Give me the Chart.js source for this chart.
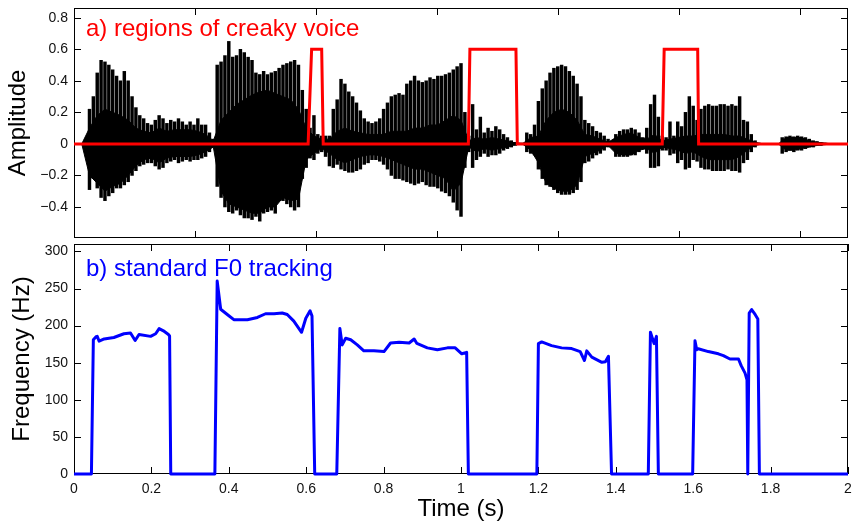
<!DOCTYPE html>
<html>
<head>
<meta charset="utf-8">
<script src="https://cdn.jsdelivr.net/npm/chart.js@4.4.1/dist/chart.umd.min.js"></script>
<style>
  html, body { margin: 0; padding: 0; background: #fff; }
  #wrap { position: relative; width: 852px; height: 522px; }
  canvas { position: absolute; left: 0; }
  #top { top: 0; }
  #bottom { top: 240px; }
</style>
</head>
<body>
<div id="wrap">
  <canvas id="top" width="852" height="240"></canvas>
  <canvas id="bottom" width="852" height="282"></canvas>
</div>
<script>
/* Panel a) waveform with creaky-voice regions, panel b) F0 track */

// waveform envelope, one value every 10 ms from 0 s
const WAVE_STEP = 0.01;
const waveHi = [
  0, 0, 0, 0, 0.22, 0.30, 0.45, 0.53, 0.52, 0.50,
  0.47, 0.43, 0.40, 0.46, 0.40, 0.30, 0.23, 0.18, 0.16, 0.13,
  0.12, 0.15, 0.18, 0.16, 0.13, 0.15, 0.14, 0.16, 0.14, 0.12,
  0.14, 0.12, 0.16, 0.12, 0.12, 0.07, 0.03, 0.50, 0.52, 0.56,
  0.65, 0.55, 0.56, 0.60, 0.58, 0.55, 0.53, 0.45, 0.44, 0.46,
  0.44, 0.45, 0.46, 0.48, 0.50, 0.51, 0.52, 0.53, 0.50, 0.34,
  0.22, 0.10, 0.18, 0.06, 0.05, 0.05, 0.05, 0.22, 0.28, 0.41,
  0.38, 0.33, 0.30, 0.26, 0.21, 0.16, 0.14, 0.13, 0.14, 0.16,
  0.22, 0.26, 0.30, 0.31, 0.32, 0.31, 0.38, 0.40, 0.43, 0.40,
  0.39, 0.40, 0.42, 0.41, 0.43, 0.43, 0.44, 0.45, 0.47, 0.49,
  0.51, 0.20, 0.05, 0.25, 0.09, 0.17, 0.07, 0.10, 0.08, 0.11,
  0.09, 0.06, 0.04, 0.02, 0.01, 0.005, 0.005, 0.07, 0.06, 0.12,
  0.27, 0.35, 0.40, 0.45, 0.48, 0.49, 0.50, 0.49, 0.46, 0.43,
  0.38, 0.30, 0.15, 0.13, 0.11, 0.08, 0.07, 0.05, 0.03, 0.01,
  0.06, 0.08, 0.09, 0.09, 0.10, 0.09, 0.07, 0.04, 0.10, 0.25,
  0.31, 0.17, 0.05, 0.04, 0.14, 0.05, 0.14, 0.11, 0.20, 0.30,
  0.24, 0.15, 0.22, 0.24, 0.25, 0.24, 0.24, 0.25, 0.25, 0.24,
  0.25, 0.24, 0.30, 0.15, 0.14, 0.06, 0.02, 0.005, 0, 0,
  0, 0, 0, 0.04, 0.045, 0.05, 0.045, 0.05, 0.045, 0.04,
  0.03, 0.02, 0.015, 0.01, 0.005, 0, 0, 0, 0, 0
];
const waveLo = [
  0, 0, 0, 0, -0.29, -0.22, -0.28, -0.34, -0.36, -0.33,
  -0.31, -0.28, -0.28, -0.26, -0.24, -0.20, -0.17, -0.14, -0.13, -0.12,
  -0.12, -0.14, -0.16, -0.15, -0.12, -0.11, -0.10, -0.12, -0.11, -0.10,
  -0.11, -0.10, -0.10, -0.09, -0.08, -0.05, -0.02, -0.27, -0.34, -0.40,
  -0.43, -0.44, -0.42, -0.45, -0.47, -0.47, -0.48, -0.46, -0.49, -0.44,
  -0.43, -0.42, -0.44, -0.36, -0.36, -0.38, -0.40, -0.42, -0.40, -0.22,
  -0.15, -0.09, -0.10, -0.06, -0.05, -0.08, -0.14, -0.15, -0.13, -0.16,
  -0.17, -0.18, -0.18, -0.17, -0.16, -0.13, -0.12, -0.10, -0.10, -0.11,
  -0.13, -0.16, -0.20, -0.22, -0.22, -0.23, -0.24, -0.25, -0.26, -0.25,
  -0.24, -0.26, -0.27, -0.27, -0.28, -0.30, -0.31, -0.33, -0.37, -0.42,
  -0.46, -0.15, -0.05, -0.15, -0.10, -0.08, -0.06, -0.08, -0.07, -0.07,
  -0.06, -0.04, -0.03, -0.02, -0.01, -0.005, -0.005, -0.05, -0.06, -0.07,
  -0.16, -0.22, -0.26, -0.27, -0.29, -0.31, -0.32, -0.32, -0.32, -0.31,
  -0.29, -0.24, -0.12, -0.11, -0.09, -0.07, -0.06, -0.04, -0.02, -0.01,
  -0.08, -0.08, -0.08, -0.08, -0.07, -0.07, -0.05, -0.03, -0.06, -0.15,
  -0.15, -0.14, -0.04, -0.04, -0.07, -0.06, -0.12, -0.10, -0.16, -0.15,
  -0.10, -0.11, -0.15, -0.16, -0.16, -0.17, -0.17, -0.17, -0.17, -0.16,
  -0.17, -0.17, -0.18, -0.12, -0.10, -0.05, -0.02, -0.005, 0, 0,
  0, 0, 0, -0.06, -0.05, -0.04, -0.05, -0.04, -0.04, -0.03,
  -0.02, -0.02, -0.01, -0.01, -0.005, 0, 0, 0, 0, 0
];

// dense inner part of the waveform, one value every 20 ms
const CORE_STEP = 0.02;
const coreHi = [
  0, 0, 0.10, 0.18, 0.22, 0.20, 0.18, 0.15, 0.10, 0.08,
  0.07, 0.10, 0.08, 0.09, 0.09, 0.09, 0.08, 0.06, 0.02, 0.15,
  0.20, 0.25, 0.28, 0.31, 0.33, 0.34, 0.32, 0.30, 0.28, 0.22,
  0.10, 0.05, 0.03, 0.03, 0.08, 0.10, 0.08, 0.07, 0.06, 0.06,
  0.06, 0.08, 0.08, 0.08, 0.10, 0.10, 0.12, 0.12, 0.15, 0.18,
  0.15, 0.02, 0.04, 0.03, 0.04, 0.03, 0.02, 0.005, 0.003, 0.04,
  0.05, 0.15, 0.20, 0.22, 0.20, 0.15, 0.06, 0.05, 0.03, 0.01,
  0.04, 0.06, 0.07, 0.04, 0.03, 0.06, 0.02, 0.03, 0.04, 0.05,
  0.05, 0.06, 0.06, 0.06, 0.06, 0.05, 0.05, 0.03, 0.01, 0,
  0, 0, 0.04, 0.04, 0.04, 0.02, 0.01, 0.005, 0, 0
];
const coreLo = [
  0, 0, -0.20, -0.25, -0.30, -0.27, -0.25, -0.20, -0.14, -0.10,
  -0.09, -0.12, -0.09, -0.08, -0.08, -0.08, -0.07, -0.05, -0.02, -0.30,
  -0.38, -0.40, -0.42, -0.44, -0.44, -0.40, -0.40, -0.34, -0.36, -0.35,
  -0.10, -0.06, -0.03, -0.06, -0.10, -0.12, -0.10, -0.08, -0.07, -0.07,
  -0.08, -0.10, -0.12, -0.14, -0.16, -0.16, -0.18, -0.20, -0.22, -0.30,
  -0.25, -0.02, -0.05, -0.03, -0.04, -0.03, -0.02, -0.005, -0.003, -0.04,
  -0.12, -0.25, -0.28, -0.30, -0.30, -0.26, -0.08, -0.06, -0.04, -0.01,
  -0.06, -0.07, -0.07, -0.04, -0.03, -0.06, -0.02, -0.03, -0.04, -0.06,
  -0.05, -0.08, -0.10, -0.10, -0.10, -0.10, -0.08, -0.04, -0.01, 0,
  0, 0, -0.04, -0.04, -0.03, -0.02, -0.01, -0.005, 0, 0
];

// creaky voice regions (red)
const creakyT = [0, 0.605, 0.614, 0.640, 0.644, 1.019, 1.023, 1.142, 1.1455, 1.520, 1.525, 1.6116, 1.614, 2.0];
const creakyV = [0, 0, 0.6, 0.6, 0, 0, 0.6, 0.6, 0, 0, 0.6, 0.6, 0, 0];

// standard F0 track (blue)
const f0T = [
  0, 0.045, 0.050, 0.057, 0.060, 0.065, 0.078, 0.103, 0.129, 0.146, 0.158, 0.168, 0.198, 0.211, 0.220, 0.231, 0.244, 0.247, 0.250,
  0.364, 0.370, 0.379, 0.396, 0.413, 0.448, 0.474, 0.495, 0.517, 0.538, 0.551, 0.568, 0.588, 0.599, 0.610, 0.615, 0.622,
  0.679, 0.687, 0.693, 0.702, 0.715, 0.732, 0.749, 0.775, 0.801, 0.818, 0.840, 0.866, 0.879, 0.886, 0.913, 0.939, 0.965, 0.985, 1.002, 1.0146, 1.019,
  1.196, 1.200, 1.2085, 1.234, 1.260, 1.286, 1.308, 1.319, 1.325, 1.338, 1.364, 1.373, 1.381, 1.389,
  1.484, 1.4895, 1.499, 1.505, 1.510,
  1.5986, 1.6046, 1.609, 1.613, 1.639, 1.665, 1.678, 1.695, 1.717, 1.724, 1.734, 1.739, 1.741, 1.7447, 1.751, 1.760, 1.767, 1.771, 2.0
];
const f0Hz = [
  0, 0, 181, 185, 185.5, 179, 182, 184, 189, 190, 180, 188, 185.5, 189, 196, 193, 188, 186, 0,
  0, 260, 222, 215, 208, 208, 211, 216, 216, 217, 215, 206, 191, 210, 220, 213, 0,
  0, 196, 174, 183, 181, 174, 166, 166, 165, 176.6, 177.5, 176.6, 182, 176, 170, 167.6, 170, 170, 162, 164, 0,
  0, 175.7, 178, 173, 170, 169, 165, 153, 166, 157.6, 150.5, 151.4, 158.6, 0,
  0, 191, 175.7, 185.5, 0,
  0, 179.7, 167.6, 168.9, 165, 162, 159.5, 155, 155, 146, 136, 127, 0, 217, 221.6, 215, 209, 0, 0
];

// axis ticks
const SAMPLE_RATE = 16000;
const topSampleTicks = [5000, 10000, 15000, 20000, 25000, 30000];
const ampTicks = [-0.4, -0.2, 0, 0.2, 0.4, 0.6, 0.8];
const timeTicks = [0, 0.2, 0.4, 0.6, 0.8, 1, 1.2, 1.4, 1.6, 1.8, 2];
const freqTicks = [0, 50, 100, 150, 200, 250, 300];

const FONT = "'Liberation Sans', Arial, Helvetica, sans-serif";
const TICK_LEN = 7;

const pts = (xs, ys) => xs.map((x, i) => ({ x: x, y: ys[i] }));
const stepPts = (arr, step) => arr.map((v, i) => ({ x: i * step, y: v }));
const fmtNum = (v) => (v < 0 ? "\u2212" : "") + String(Math.abs(v));

// MATLAB-like box with inward ticks and the panel caption
const boxPlugin = {
  id: "boxPlugin",
  beforeDatasetsDraw(chart, args, opts) {
    const { ctx, chartArea: a } = chart;
    const xs = chart.scales.x, ys = chart.scales.y;
    ctx.save();
    ctx.strokeStyle = "#000";
    ctx.lineWidth = 1;
    ctx.strokeRect(a.left + 0.5, a.top + 0.5, a.right - a.left - 1, a.bottom - a.top - 1);
    ctx.beginPath();
    const xv = opts.xTicks || xs.ticks.map(t => t.value);
    xv.forEach(v => {
      const px = Math.round(xs.getPixelForValue(v)) + 0.5;
      ctx.moveTo(px, a.bottom); ctx.lineTo(px, a.bottom - TICK_LEN);
      ctx.moveTo(px, a.top); ctx.lineTo(px, a.top + TICK_LEN);
    });
    ys.ticks.forEach(t => {
      const py = Math.round(ys.getPixelForValue(t.value)) + 0.5;
      ctx.moveTo(a.left, py); ctx.lineTo(a.left + TICK_LEN, py);
      ctx.moveTo(a.right, py); ctx.lineTo(a.right - TICK_LEN, py);
    });
    ctx.stroke();
    ctx.restore();
  },
  afterDraw(chart, args, opts) {
    const { ctx, chartArea: a } = chart;
    ctx.save();
    ctx.fillStyle = opts.color;
    ctx.font = "24px " + FONT;
    ctx.textBaseline = "alphabetic";
    ctx.fillText(opts.label, a.left + 12, opts.labelY);
    ctx.restore();
  }
};

const noPad = (s) => { s.paddingTop = 0; s.paddingBottom = 0; s.paddingLeft = 0; s.paddingRight = 0; };

const baseOpts = {
  responsive: false,
  animation: false,
  events: [],
  plugins: { legend: { display: false }, tooltip: { enabled: false } }
};

// ---- panel a) ----
new Chart(document.getElementById("top"), {
  type: "bar",
  data: {
    datasets: [
      { type: "line", data: pts(creakyT, creakyV), borderColor: "#ff0000", borderWidth: 3, pointRadius: 0, tension: 0, clip: 3 },
      { type: "line", data: [{ x: 0, y: 0 }, { x: 2, y: 0 }], borderColor: "#000", borderWidth: 1, pointRadius: 0 },
      { type: "line", data: stepPts(coreHi, CORE_STEP), borderColor: "#000", borderWidth: 1, backgroundColor: "#000", fill: "+1", pointRadius: 0, tension: 0 },
      { type: "line", data: stepPts(coreLo, CORE_STEP), borderColor: "#000", borderWidth: 1, fill: false, pointRadius: 0, tension: 0 },
      { type: "bar", data: waveHi.map((h, i) => ({ x: i * WAVE_STEP, y: [waveLo[i], h] })), backgroundColor: "#000", barThickness: 2.8, grouped: false }
    ]
  },
  options: {
    ...baseOpts,
    layout: { padding: { left: 0, right: 4, top: 8, bottom: 2 } },
    scales: {
      x: { type: "linear", min: 0, max: 2, offset: false, display: false },
      y: {
        min: -0.597, max: 0.862,
        afterBuildTicks: (s) => { s.ticks = ampTicks.map(v => ({ value: v })); },
        afterFit: (s) => { s.width = 74; noPad(s); },
        grid: { display: false, drawTicks: false },
        border: { display: false },
        ticks: { padding: 6, color: "#111", font: { family: FONT, size: 14 }, callback: (v) => fmtNum(v) },
        title: { display: true, text: "Amplitude", color: "#000", font: { family: FONT, size: 24 }, padding: { top: 4, bottom: 0 } }
      }
    },
    plugins: {
      ...baseOpts.plugins,
      boxPlugin: { label: "a) regions of creaky voice", color: "#ff0000", labelY: 36, xTicks: topSampleTicks.map(s => s / SAMPLE_RATE) }
    }
  },
  plugins: [boxPlugin]
});

// ---- panel b) ----
new Chart(document.getElementById("bottom"), {
  type: "line",
  data: {
    datasets: [
      { data: pts(f0T, f0Hz), borderColor: "#0000ff", borderWidth: 3, pointRadius: 0, tension: 0, clip: 3, borderJoinStyle: "round" }
    ]
  },
  options: {
    ...baseOpts,
    layout: { padding: { left: 0, right: 4, top: 4, bottom: 0 } },
    scales: {
      x: {
        type: "linear", min: 0, max: 2, offset: false,
        afterBuildTicks: (s) => { s.ticks = timeTicks.map(v => ({ value: v })); },
        afterFit: (s) => { s.height = 48; noPad(s); },
        grid: { display: false, drawTicks: false },
        border: { display: false },
        ticks: { padding: 7, maxRotation: 0, autoSkip: false, color: "#111", font: { family: FONT, size: 14 }, callback: (v) => String(v) },
        title: { display: true, text: "Time (s)", color: "#000", font: { family: FONT, size: 24 }, padding: { top: 0, bottom: -2 } }
      },
      y: {
        min: 0, max: 310,
        afterBuildTicks: (s) => { s.ticks = freqTicks.map(v => ({ value: v })); },
        afterFit: (s) => { s.width = 74; noPad(s); },
        grid: { display: false, drawTicks: false },
        border: { display: false },
        ticks: { padding: 6, color: "#111", font: { family: FONT, size: 14 }, callback: (v) => String(v) },
        title: { display: true, text: "Frequency (Hz)", color: "#000", font: { family: FONT, size: 24 }, padding: { top: 8, bottom: 0 } }
      }
    },
    plugins: {
      ...baseOpts.plugins,
      boxPlugin: { label: "b) standard F0 tracking", color: "#0000ff", labelY: 36 }
    }
  },
  plugins: [boxPlugin]
});
</script>
</body>
</html>
